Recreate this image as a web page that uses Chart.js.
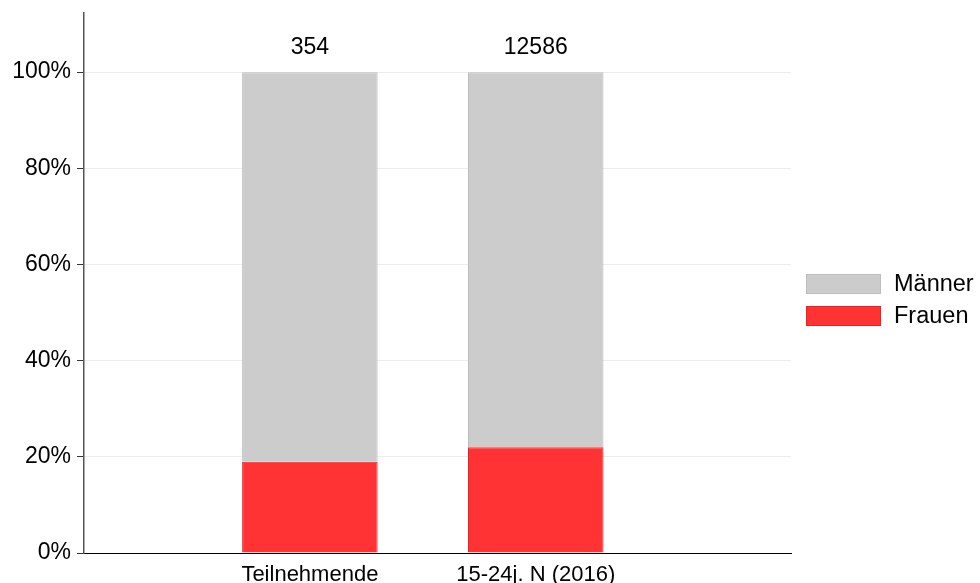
<!DOCTYPE html>
<html>
<head>
<meta charset="utf-8">
<script src="https://cdn.jsdelivr.net/npm/chart.js@4"></script>
<style>
  html, body { margin: 0; padding: 0; background: #fff; }
  #wrap { width: 980px; height: 583px; }
</style>
</head>
<body>
<div id="wrap"><canvas id="chart" width="980" height="583"></canvas></div>
<script>
// Kategorien und Werte (Anteile in %)
const kategorien = ['Teilnehmende', '15-24j. N (2016)'];
const positionen = [1, 2];
const frauen = [19, 22];
const maenner = [81, 78];
const anzahl = [354, 12586];
const yTicks = [0, 20, 40, 60, 80, 100];

const schrift = 'Liberation Sans, Arial, sans-serif';

// Anzahl über den Balken
const anzahlPlugin = {
  id: 'anzahl',
  afterDatasetsDraw(chart) {
    const ctx = chart.ctx;
    const x = chart.scales.x, y = chart.scales.y;
    ctx.save();
    ctx.font = '23px ' + schrift;
    ctx.fillStyle = '#000';
    ctx.textAlign = 'center';
    ctx.textBaseline = 'middle';
    positionen.forEach((p, i) => {
      ctx.fillText(String(anzahl[i]), x.getPixelForValue(p), y.getPixelForValue(100) - 24);
    });
    ctx.restore();
  }
};

// Legende rechts (Männer oben, Frauen unten)
const legendePlugin = {
  id: 'legende',
  afterDraw(chart) {
    const ctx = chart.ctx;
    const ds = chart.data.datasets.slice().reverse();
    ctx.save();
    ctx.font = '23.5px ' + schrift;
    ctx.textBaseline = 'middle';
    ds.forEach((d, i) => {
      const top = 274 + i * 32;
      ctx.fillStyle = d.backgroundColor;
      ctx.fillRect(806, top, 75, 20);
      ctx.strokeStyle = d.borderColor;
      ctx.lineWidth = 1;
      ctx.strokeRect(806.5, top + 0.5, 74, 19);
      ctx.fillStyle = '#000';
      ctx.fillText(d.label, 894, top + 11);
    });
    ctx.restore();
  }
};

new Chart(document.getElementById('chart').getContext('2d'), {
  type: 'bar',
  data: {
    datasets: [
      {
        label: 'Frauen',
        data: positionen.map((p, i) => ({ x: p, y: frauen[i] })),
        backgroundColor: '#ff3333',
        borderColor: '#f02020',
        borderWidth: 1,
        barPercentage: 0.6,
        categoryPercentage: 1
      },
      {
        label: 'Männer',
        data: positionen.map((p, i) => ({ x: p, y: maenner[i] })),
        backgroundColor: '#cccccc',
        borderColor: '#bdbdbd',
        borderWidth: 1,
        barPercentage: 0.6,
        categoryPercentage: 1
      }
    ]
  },
  options: {
    responsive: false,
    animation: false,
    layout: { padding: { top: 13, right: 189, left: 0, bottom: 0 } },
    plugins: { legend: { display: false }, tooltip: { enabled: false } },
    scales: {
      x: {
        type: 'linear',
        stacked: true,
        offset: false,
        min: 0,
        max: 3.13,
        grid: { display: false },
        border: { color: '#000', width: 1 },
        afterBuildTicks: s => { s.ticks = positionen.map(v => ({ value: v })); },
        afterFit: s => { s.height = 30; s.paddingLeft = 0; s.paddingRight = 0; },
        ticks: {
          autoSkip: false,
          maxRotation: 0,
          padding: 1,
          color: '#000',
          font: { family: schrift, size: 22 },
          callback: v => kategorien[positionen.indexOf(v)] || ''
        }
      },
      y: {
        stacked: true,
        min: 0,
        max: 112.3,
        grid: { color: '#ececec', tickColor: '#333', tickLength: 7, lineWidth: 1 },
        border: { color: '#555', width: 1.5 },
        afterBuildTicks: s => { s.ticks = yTicks.map(v => ({ value: v })); },
        afterFit: s => { s.width = 84; s.paddingTop = 0; s.paddingBottom = 0; },
        ticks: {
          padding: 6,
          color: '#000',
          font: { family: schrift, size: 23 },
          callback: v => v + '%'
        }
      }
    }
  },
  plugins: [anzahlPlugin, legendePlugin]
});
</script>
</body>
</html>
